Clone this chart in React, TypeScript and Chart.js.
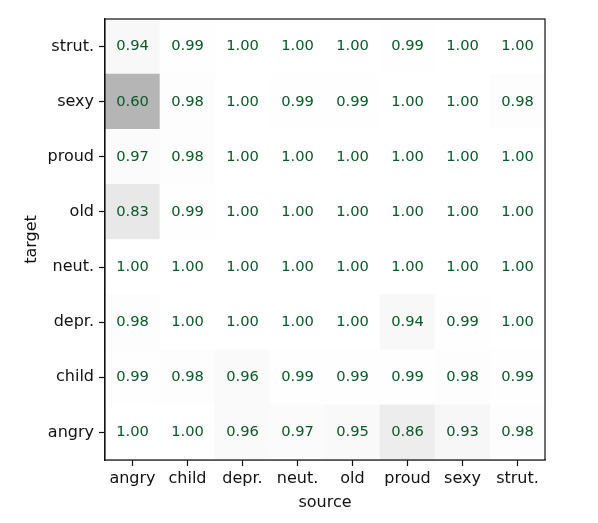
import React, { useEffect, useRef } from "react";
import { Chart, registerables } from "chart.js";

Chart.register(...registerables);

const xLabels = ["angry", "child", "depr.", "neut.", "old", "proud", "sexy", "strut."];
const yLabels = ["angry", "child", "depr.", "neut.", "old", "proud", "sexy", "strut."];

// rows from bottom (angry) to top (strut.), columns follow xLabels
const rowAngry = [1.0, 1.0, 0.96, 0.97, 0.95, 0.86, 0.93, 0.98];
const rowChild = [0.99, 0.98, 0.96, 0.99, 0.99, 0.99, 0.98, 0.99];
const rowDepr = [0.98, 1.0, 1.0, 1.0, 1.0, 0.94, 0.99, 1.0];
const rowNeut = [1.0, 1.0, 1.0, 1.0, 1.0, 1.0, 1.0, 1.0];
const rowOld = [0.83, 0.99, 1.0, 1.0, 1.0, 1.0, 1.0, 1.0];
const rowProud = [0.97, 0.98, 1.0, 1.0, 1.0, 1.0, 1.0, 1.0];
const rowSexy = [0.6, 0.98, 1.0, 0.99, 0.99, 1.0, 1.0, 0.98];
const rowStrut = [0.94, 0.99, 1.0, 1.0, 1.0, 0.99, 1.0, 1.0];

const rows = [rowAngry, rowChild, rowDepr, rowNeut, rowOld, rowProud, rowSexy, rowStrut];

// matplotlib Greys colormap approx
const greyStops = [255, 240, 217, 189, 150, 115, 82, 37, 0];
function greys(t: number): string {
  const c = Math.max(0, Math.min(1, t)) * 8;
  const i = Math.min(7, Math.floor(c));
  const f = c - i;
  const g = Math.round(greyStops[i] + (greyStops[i + 1] - greyStops[i]) * f);
  return `rgb(${g},${g},${g})`;
}

const FONT = "'DejaVu Sans', sans-serif";

export default function App() {
  const ref = useRef<HTMLCanvasElement | null>(null);
  useEffect(() => {
    if (!ref.current) return;
    const datasets = rows.map((row, r) => ({
      label: yLabels[r],
      data: row.map(() => [r - 0.5, r + 0.5] as [number, number]),
      backgroundColor: row.map((v) => greys(1 - v)),
      borderWidth: 0,
      borderSkipped: false as const,
      barPercentage: 1,
      categoryPercentage: 1,
      grouped: false,
    }));

    const cellText = {
      id: "cellText",
      afterDatasetsDraw(chart: any) {
        const ctx = chart.ctx;
        const xs = chart.scales.x;
        const ys = chart.scales.y;
        ctx.save();
        ctx.font = `14.7px ${FONT}`;
        ctx.fillStyle = "#0b582a";
        ctx.textAlign = "center";
        ctx.textBaseline = "middle";
        rows.forEach((row, r) => {
          row.forEach((v, c) => {
            ctx.fillText(v.toFixed(2), xs.getPixelForValue(c), ys.getPixelForValue(r));
          });
        });
        ctx.restore();
      },
      afterDraw(chart: any) {
        const { left, right, top, bottom } = chart.chartArea;
        const ctx = chart.ctx;
        ctx.save();
        ctx.strokeStyle = "#111";
        ctx.lineWidth = 1.2;
        ctx.strokeRect(left, top, right - left, bottom - top);
        ctx.restore();
      },
    };

    const chart = new Chart(ref.current, {
      type: "bar",
      data: { labels: xLabels, datasets: datasets as any },
      options: {
        animation: false,
        responsive: false,
        maintainAspectRatio: false,
        layout: { padding: { left: 0, right: 53, top: 19, bottom: 0 } },
        plugins: { legend: { display: false }, tooltip: { enabled: false } },
        scales: {
          x: {
            type: "category",
            offset: true,
            grid: { display: true, offset: false, drawOnChartArea: false, drawTicks: true, tickLength: 6, tickColor: "#111", tickWidth: 1.2 },
            border: { display: true, color: "#111", width: 1.2 },
            ticks: { color: "#111", font: { family: FONT, size: 16 }, padding: 3, maxRotation: 0, autoSkip: false },
            title: { display: true, text: "source", color: "#111", font: { family: FONT, size: 16 }, padding: { top: 0, bottom: 11 } },
            afterFit(scale: any) { scale.height = 63; },
          },
          y: {
            type: "linear",
            min: -0.5,
            max: 7.5,
            afterBuildTicks(scale: any) {
              scale.ticks = yLabels.map((_, i) => ({ value: i }));
            },
            grid: { display: true, drawOnChartArea: false, drawTicks: true, tickLength: 6, tickColor: "#111", tickWidth: 1.2 },
            border: { display: true, color: "#111", width: 1.2 },
            ticks: {
              color: "#111",
              font: { family: FONT, size: 16 },
              padding: 5,
              autoSkip: false,
              callback: (v: any) => yLabels[Math.round(Number(v))] ?? "",
            },
            title: { display: true, text: "target", color: "#111", font: { family: FONT, size: 16 }, padding: { top: 22, bottom: 0 } },
            afterFit(scale: any) { scale.width = 105; },
          },
        },
      },
      plugins: [cellText],
    });
    return () => chart.destroy();
  }, []);
  return (
    <div style={{ position: "fixed", left: 0, top: 0, width: 598, height: 523, background: "#fff" }}>
      <canvas ref={ref} width={598} height={523} style={{ width: 598, height: 523 }} />
    </div>
  );
}
